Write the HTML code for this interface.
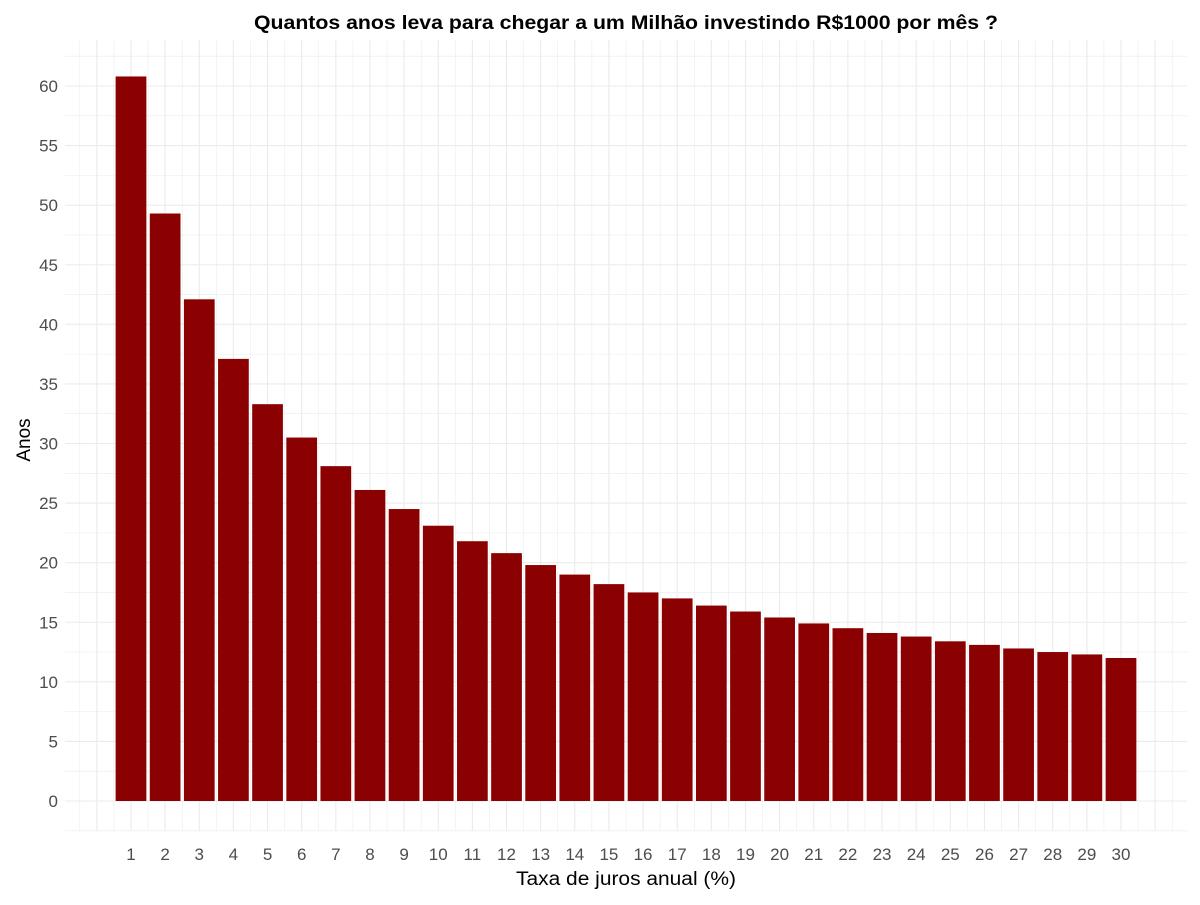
<!DOCTYPE html>
<html><head><meta charset="utf-8"><style>
body{margin:0;background:#fff;font-family:"Liberation Sans",sans-serif}
svg text{font-family:"Liberation Sans",sans-serif}
</style></head><body>
<svg id="chart" width="1200" height="900" xmlns="http://www.w3.org/2000/svg">
<text x="254" y="29" textLength="744" lengthAdjust="spacingAndGlyphs" font-size="19" font-weight="bold" fill="#000">Quantos anos leva para chegar a um Milhão investindo R$1000 por mês ?</text>
<text x="516" y="885" textLength="220" lengthAdjust="spacingAndGlyphs" font-size="19" fill="#000">Taxa de juros anual (%)</text>
<text transform="translate(30,440) rotate(-90)" text-anchor="middle" font-size="19" fill="#000">Anos</text>
<g id="grid"></g><g id="bars"></g><g id="xt"></g><g id="yt"></g>
</svg>
<script>
const categories=[1,2,3,4,5,6,7,8,9,10,11,12,13,14,15,16,17,18,19,20,21,22,23,24,25,26,27,28,29,30];
const values=[60.8,49.3,42.1,37.1,33.3,30.5,28.1,26.1,24.5,23.1,21.8,20.8,19.8,19.0,18.2,17.5,17.0,16.4,15.9,15.4,14.9,14.5,14.1,13.8,13.4,13.1,12.8,12.5,12.3,12.0];
const yTicks=[0,5,10,15,20,25,30,35,40,45,50,55,60];
const NS="http://www.w3.org/2000/svg";
const xs=v=>131+(v-1)*(990/29);
const ys=v=>801-v*(715/60);
function mk(tag,attrs,parent){const e=document.createElementNS(NS,tag);for(const k in attrs)e.setAttribute(k,attrs[k]);parent.appendChild(e);return e;}
const grid=document.getElementById('grid'),bars=document.getElementById('bars'),xt=document.getElementById('xt'),yt=document.getElementById('yt');
const x0=65,x1=1187,yTop=40,yBot=831;
for(let v=-2.5;v<=70;v+=2.5){const y=ys(v);if(y<yTop)break;
 const l=mk('line',{x1:x0,x2:x1,y1:y,y2:y,stroke:'#ebebeb','stroke-width':(v%5===0)?1.1:0.55},grid);
 }
for(let c=-0.5;c<=31.5;c+=0.5){const x=xs(c);if(x<x0||x>x1)continue;
 const l=mk('line',{x1:x,x2:x,y1:yTop,y2:yBot,stroke:'#ebebeb','stroke-width':Number.isInteger(c)?1.1:0.55},grid);
 }
const bw=0.9*990/29;
categories.forEach((c,i)=>{
 const r=mk('rect',{x:xs(c)-bw/2,y:ys(values[i]),width:bw,height:ys(0)-ys(values[i]),fill:'#8b0000'},bars);
 
 const t=mk('text',{x:xs(c),y:860,'text-anchor':'middle','font-size':'17',fill:'#4d4d4d'},xt);t.textContent=c;
 
});
yTicks.forEach(v=>{
 const t=mk('text',{x:58,y:ys(v)+6,'text-anchor':'end','font-size':'17',fill:'#4d4d4d'},yt);t.textContent=v;
 
});
</script>
</body></html>
